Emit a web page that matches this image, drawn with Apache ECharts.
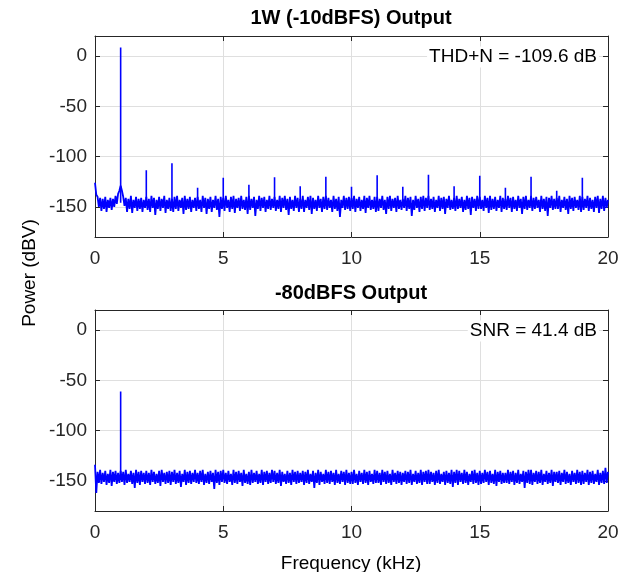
<!DOCTYPE html>
<html><head><meta charset="utf-8">
<script src="https://cdn.jsdelivr.net/npm/echarts@6/dist/echarts.min.js"></script>
<style>html,body{margin:0;padding:0;background:#fff}#c{width:625px;height:572px}</style>
</head><body><div id="c"></div>
<script>
// Frequency spacing of spectrum samples (kHz)
const freqStep = 0.05;
const xTickValues = [0, 5, 10, 15, 20];
const yTickValues = [-150, -100, -50, 0];

// Top panel: 1W (-10dBFS) noise floor, dBV, one row per kHz
const noiseTop = [
-126,-138,-140,-150,-141,-154,-142,-152,-140,-155,-143,-151,-141,-153,-142,-150,-139,-147,-137,-134,
-129,-134,-140,-149,-141,-155,-142,-152,-139,-156,-143,-151,-140,-154,-142,-152,-141,-155,-143,-151,
-140,-153,-142,-155,-139,-151,-141,-158,-143,-152,-140,-154,-142,-151,-139,-156,-143,-152,-141,-154,
-142,-155,-140,-152,-139,-154,-143,-151,-141,-157,-139,-153,-142,-152,-140,-155,-143,-151,-141,-154,
-140,-152,-143,-155,-139,-151,-141,-157,-142,-152,-140,-155,-143,-151,-139,-153,-142,-160,-140,-152,
-141,-154,-139,-151,-143,-155,-140,-152,-139,-156,-142,-151,-141,-154,-139,-152,-143,-153,-140,-157,
-139,-153,-142,-151,-140,-159,-143,-152,-139,-154,-141,-151,-140,-155,-143,-152,-139,-153,-142,-151,
-140,-154,-143,-152,-139,-155,-141,-151,-139,-153,-142,-158,-140,-152,-143,-154,-139,-151,-141,-155,
-142,-152,-139,-155,-143,-151,-140,-153,-139,-157,-141,-152,-143,-154,-139,-151,-142,-155,-140,-152,
-139,-153,-141,-151,-143,-155,-139,-152,-142,-154,-140,-160,-143,-151,-139,-153,-141,-152,-140,-154,
-141,-152,-139,-155,-142,-151,-140,-154,-143,-152,-139,-156,-141,-151,-139,-153,-143,-152,-140,-155,
-140,-154,-142,-151,-139,-153,-143,-157,-140,-152,-139,-154,-142,-151,-141,-155,-139,-152,-143,-153,
-142,-151,-139,-154,-141,-152,-140,-159,-143,-153,-139,-151,-142,-155,-140,-152,-139,-154,-141,-151,
-139,-153,-142,-152,-140,-155,-143,-151,-139,-154,-141,-152,-140,-157,-142,-151,-139,-153,-143,-152,
-141,-154,-139,-152,-142,-151,-140,-155,-143,-153,-139,-152,-141,-158,-140,-151,-142,-154,-139,-152,
-140,-152,-143,-154,-139,-151,-141,-156,-139,-153,-142,-152,-140,-154,-143,-151,-139,-155,-141,-152,
-142,-153,-139,-151,-141,-155,-140,-152,-143,-154,-139,-151,-142,-157,-140,-152,-139,-153,-143,-151,
-139,-154,-141,-152,-140,-151,-143,-155,-139,-152,-142,-154,-140,-159,-141,-151,-139,-153,-142,-152,
-141,-152,-139,-155,-143,-151,-140,-153,-142,-157,-139,-152,-141,-154,-140,-151,-143,-153,-139,-155,
-140,-153,-142,-151,-139,-154,-141,-152,-143,-155,-140,-151,-139,-156,-142,-152,-139,-154,-141,-151,
-143
];

// Top panel: fundamental and harmonics
const peakFreqsTop  = [1, 2, 3, 4, 5, 6, 7, 8, 9, 10, 11, 12, 13, 14, 15, 16, 17, 18, 19];
const peakLevelsTop = [8.5, -113.5, -106.5, -131, -121, -128, -120.5, -129.5, -120, -130, -118.5, -130, -118, -129.5, -119, -131, -120, -134, -121];

// Bottom panel: -80dBFS noise floor, dBV, one row per kHz
const noiseBottom = [
-134,-162,-141,-152,-139,-153,-142,-151,-140,-154,-143,-152,-139,-155,-141,-151,-140,-153,-142,-152,
-140,-151,-141,-154,-139,-152,-143,-151,-140,-153,-142,-157,-139,-152,-141,-154,-140,-151,-142,-153,
-140,-152,-142,-154,-139,-151,-141,-153,-143,-152,-140,-155,-139,-151,-142,-153,-141,-152,-140,-154,
-141,-151,-139,-153,-142,-152,-140,-156,-143,-151,-139,-154,-141,-152,-140,-153,-142,-151,-139,-152,
-142,-153,-140,-151,-139,-154,-143,-152,-141,-153,-140,-151,-142,-158,-139,-152,-141,-154,-140,-151,
-139,-152,-142,-153,-140,-151,-143,-154,-139,-152,-141,-153,-140,-151,-142,-155,-139,-152,-143,-153,
-141,-154,-139,-152,-142,-151,-140,-153,-143,-152,-139,-154,-141,-151,-140,-153,-142,-152,-139,-151,
-140,-153,-142,-152,-139,-155,-141,-151,-143,-153,-140,-152,-142,-154,-139,-151,-141,-153,-140,-152,
-142,-151,-140,-154,-141,-152,-139,-153,-143,-151,-140,-157,-142,-152,-139,-154,-141,-151,-143,-153,
-139,-152,-141,-153,-140,-151,-142,-154,-139,-152,-143,-153,-140,-151,-141,-154,-139,-152,-142,-153,
-141,-153,-139,-152,-143,-154,-140,-151,-142,-153,-139,-152,-141,-154,-140,-151,-143,-153,-139,-152,
-140,-152,-142,-154,-139,-151,-141,-153,-140,-152,-143,-154,-139,-151,-142,-153,-140,-152,-141,-154,
-142,-151,-140,-153,-141,-152,-139,-154,-143,-151,-140,-153,-142,-152,-139,-154,-141,-151,-140,-153,
-139,-153,-141,-151,-142,-154,-140,-152,-139,-153,-143,-151,-141,-154,-140,-152,-142,-153,-139,-156,
-141,-152,-139,-154,-140,-151,-142,-153,-139,-152,-141,-154,-143,-151,-140,-153,-139,-152,-142,-154,
-140,-153,-142,-152,-139,-151,-141,-154,-140,-152,-143,-153,-139,-155,-141,-151,-140,-153,-142,-152,
-142,-152,-139,-153,-141,-151,-140,-154,-142,-152,-139,-153,-143,-151,-140,-157,-141,-152,-139,-153,
-139,-154,-142,-151,-140,-153,-141,-152,-139,-154,-143,-151,-140,-153,-142,-152,-139,-155,-141,-151,
-141,-152,-140,-154,-142,-151,-139,-153,-141,-152,-143,-154,-140,-151,-142,-153,-139,-152,-141,-154,
-140,-153,-142,-151,-139,-154,-141,-152,-140,-153,-143,-151,-139,-154,-142,-152,-140,-153,-137,-152,
-141
];

// Bottom panel: fundamental
const peakFreqsBottom  = [1];
const peakLevelsBottom = [-61];
const peakBase = -146;

function noiseData(arr) {
  return arr.map((v, i) => [Math.round(i * freqStep * 100) / 100, v]);
}
function peakData(fs, ls) {
  const d = [];
  fs.forEach((f, i) => { d.push([f, peakBase], [f, ls[i]], [f, peakBase], [f, '-']); });
  return d;
}

const FONT = '"Liberation Sans", Arial, Helvetica, sans-serif';
const axisCol = '#262626';
const gridCol = '#dfdfdf';

function xAxes(gi, withLabel) {
  return [{
    gridIndex: gi, type: 'value', min: 0, max: 20, interval: 5, position: 'bottom',
    axisLine: { show: true, onZero: false, lineStyle: { color: axisCol, width: 1 } },
    axisTick: { show: true, inside: true, length: 5, lineStyle: { color: axisCol } },
    axisLabel: { show: withLabel, color: axisCol, fontSize: 19, fontFamily: FONT, margin: 12,
                 formatter: v => xTickValues.includes(v) ? String(v) : '' },
    splitLine: { show: true, lineStyle: { color: gridCol, width: 1 } }
  }, {
    gridIndex: gi, type: 'value', min: 0, max: 20, interval: 5, position: 'top',
    axisLine: { show: true, onZero: false, lineStyle: { color: axisCol, width: 1 } },
    axisTick: { show: true, inside: true, length: 5, lineStyle: { color: axisCol } },
    axisLabel: { show: false }, splitLine: { show: false }
  }];
}
function yAxes(gi) {
  return [{
    gridIndex: gi, type: 'value', min: -180, max: 20, position: 'left',
    axisLine: { show: true, onZero: false, lineStyle: { color: axisCol, width: 1 } },
    axisTick: { show: true, inside: true, length: 5, lineStyle: { color: axisCol }, customValues: yTickValues },
    axisLabel: { show: true, color: axisCol, fontSize: 19, fontFamily: FONT, margin: 8, customValues: yTickValues },
    splitLine: { show: true, lineStyle: { color: gridCol, width: 1 } }
  }, {
    gridIndex: gi, type: 'value', min: -180, max: 20, position: 'right',
    axisLine: { show: true, onZero: false, lineStyle: { color: axisCol, width: 1 } },
    axisTick: { show: true, inside: true, length: 5, lineStyle: { color: axisCol }, customValues: yTickValues },
    axisLabel: { show: false }, splitLine: { show: false }
  }];
}

const baseSeries = { type: 'line', showSymbol: false, symbol: 'none', animation: false, silent: true,
                     connectNulls: false, clip: true, z: 3 };
const noiseStyle = { color: '#0000ff', width: 1.8 };
const peakStyle = { color: '#0000ff', width: 1.6 };

const chart = echarts.init(document.getElementById('c'), null, { renderer: 'canvas' });
chart.setOption({
  animation: false,
  backgroundColor: '#ffffff',
  grid: [
    { left: 95, top: 36, width: 513, height: 201 },
    { left: 95, top: 310, width: 513, height: 201 }
  ],
  xAxis: [...xAxes(0, true), ...xAxes(1, true)],
  yAxis: [...yAxes(0), ...yAxes(1)],
  series: [
    Object.assign({}, baseSeries, { xAxisIndex: 0, yAxisIndex: 0, lineStyle: noiseStyle, data: noiseData(noiseTop) }),
    Object.assign({}, baseSeries, { xAxisIndex: 0, yAxisIndex: 0, lineStyle: peakStyle, data: peakData(peakFreqsTop, peakLevelsTop) }),
    Object.assign({}, baseSeries, { xAxisIndex: 2, yAxisIndex: 2, lineStyle: noiseStyle, data: noiseData(noiseBottom) }),
    Object.assign({}, baseSeries, { xAxisIndex: 2, yAxisIndex: 2, lineStyle: peakStyle, data: peakData(peakFreqsBottom, peakLevelsBottom) })
  ],
  graphic: [
    { type: 'text', x: 351, y: 18, z: 10, style: { text: '1W (-10dBFS) Output', fill: '#000', font: 'bold 20px ' + FONT, align: 'center', verticalAlign: 'middle' } },
    { type: 'text', x: 351, y: 293, z: 10, style: { text: '-80dBFS Output', fill: '#000', font: 'bold 20px ' + FONT, align: 'center', verticalAlign: 'middle' } },
    { type: 'text', x: 599, y: 57, z: 10, style: { text: 'THD+N = -109.6 dB', fill: '#000', font: '19px ' + FONT, align: 'right', verticalAlign: 'middle', backgroundColor: '#fff', padding: [1, 2] } },
    { type: 'text', x: 599, y: 331, z: 10, style: { text: 'SNR = 41.4 dB', fill: '#000', font: '19px ' + FONT, align: 'right', verticalAlign: 'middle', backgroundColor: '#fff', padding: [1, 2] } },
    { type: 'text', x: 30, y: 273, rotation: Math.PI / 2, z: 10, style: { text: 'Power (dBV)', fill: '#000', font: '19px ' + FONT, align: 'center', verticalAlign: 'middle' } },
    { type: 'text', x: 351, y: 564, z: 10, style: { text: 'Frequency (kHz)', fill: '#000', font: '19px ' + FONT, align: 'center', verticalAlign: 'middle' } }
  ]
});
</script>
</body></html>
